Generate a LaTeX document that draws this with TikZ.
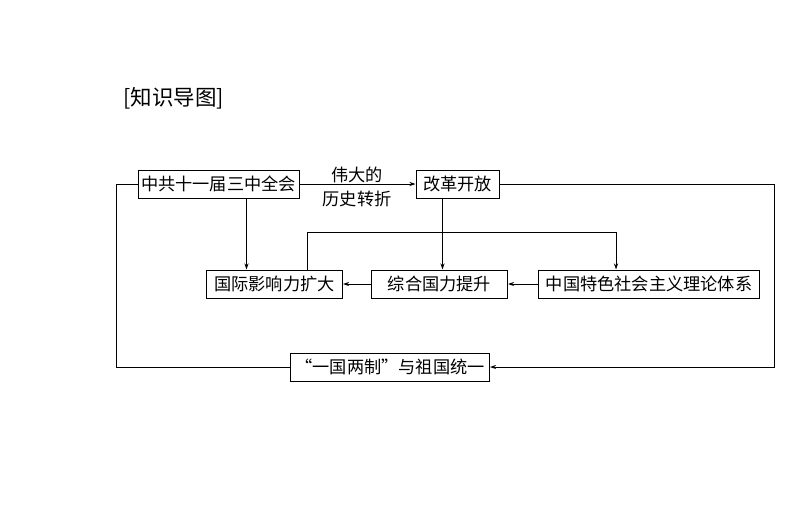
\documentclass[tikz,border=0pt]{standalone}
\usepackage{fontspec}
\usepackage{xcolor}
\usepackage{tikz}
\usetikzlibrary{positioning,arrows.meta}
\newfontfamily\cjk{Noto Sans CJK SC}

\begin{document}
\begin{tikzpicture}[x=1pt, y=-1pt,
        box/.style={draw, rectangle, line width=1pt, inner sep=0pt,
                    minimum height=28pt, font=\cjk\fontsize{17.2}{19}\selectfont},
        dep/.style={line width=0.9pt, -{Stealth[length=6pt,width=4pt]}},
        link/.style={line width=0.9pt}
    ]
        \useasboundingbox (0,0) rectangle (794,522);

        \node[font=\cjk\fontsize{21.5}{24}\selectfont, anchor=west] (title) at (120,98) {[知识导图]};

        \node[box, minimum width=161pt] (plenum) at (218.5,184) {中共十一届三中全会};
        \node[box, minimum width=83pt]  (reform) at (457.5,184) {改革开放};
        \node[box, minimum width=136pt] (world)  at (274.5,284) {国际影响力扩大};
        \node[box, minimum width=136pt] (power)  at (439.5,284) {综合国力提升};
        \node[box, minimum width=221pt] (theory) at (649,284) {中国特色社会主义理论体系};
        \node[box, minimum width=199pt] (unify)  at (390,367) {“一国两制”与祖国统一};
        \node[font=\cjk\fontsize{17.2}{24.5}\selectfont, align=center] (turn) at (357,187) {伟大的\\历史转折};

        \coordinate (top) at (0,232);
        \coordinate (leftrail) at (116,0);
        \coordinate (rightrail) at (774,0);

        \draw[dep] (plenum.east) -- (reform.west);
        \draw[dep] ([xshift=28pt]plenum.south) -- ([xshift=28pt]plenum.south |- world.north);
        \draw[dep] ([xshift=-15pt]reform.south) -- ([xshift=-15pt]reform.south |- power.north);
        \draw[dep] ([xshift=33pt]world.north) |- ([xshift=-33pt]theory.north |- top) -- ([xshift=-33pt]theory.north);
        \draw[dep] (theory.west) -- (power.east);
        \draw[dep] (power.west) -- (world.east);
        \draw[dep] (reform.east) -| (rightrail |- unify.east) -- (unify.east);
        \draw[link] (plenum.west) -| (leftrail |- unify.west) -- (unify.west);
    \end{tikzpicture}
\end{document}
